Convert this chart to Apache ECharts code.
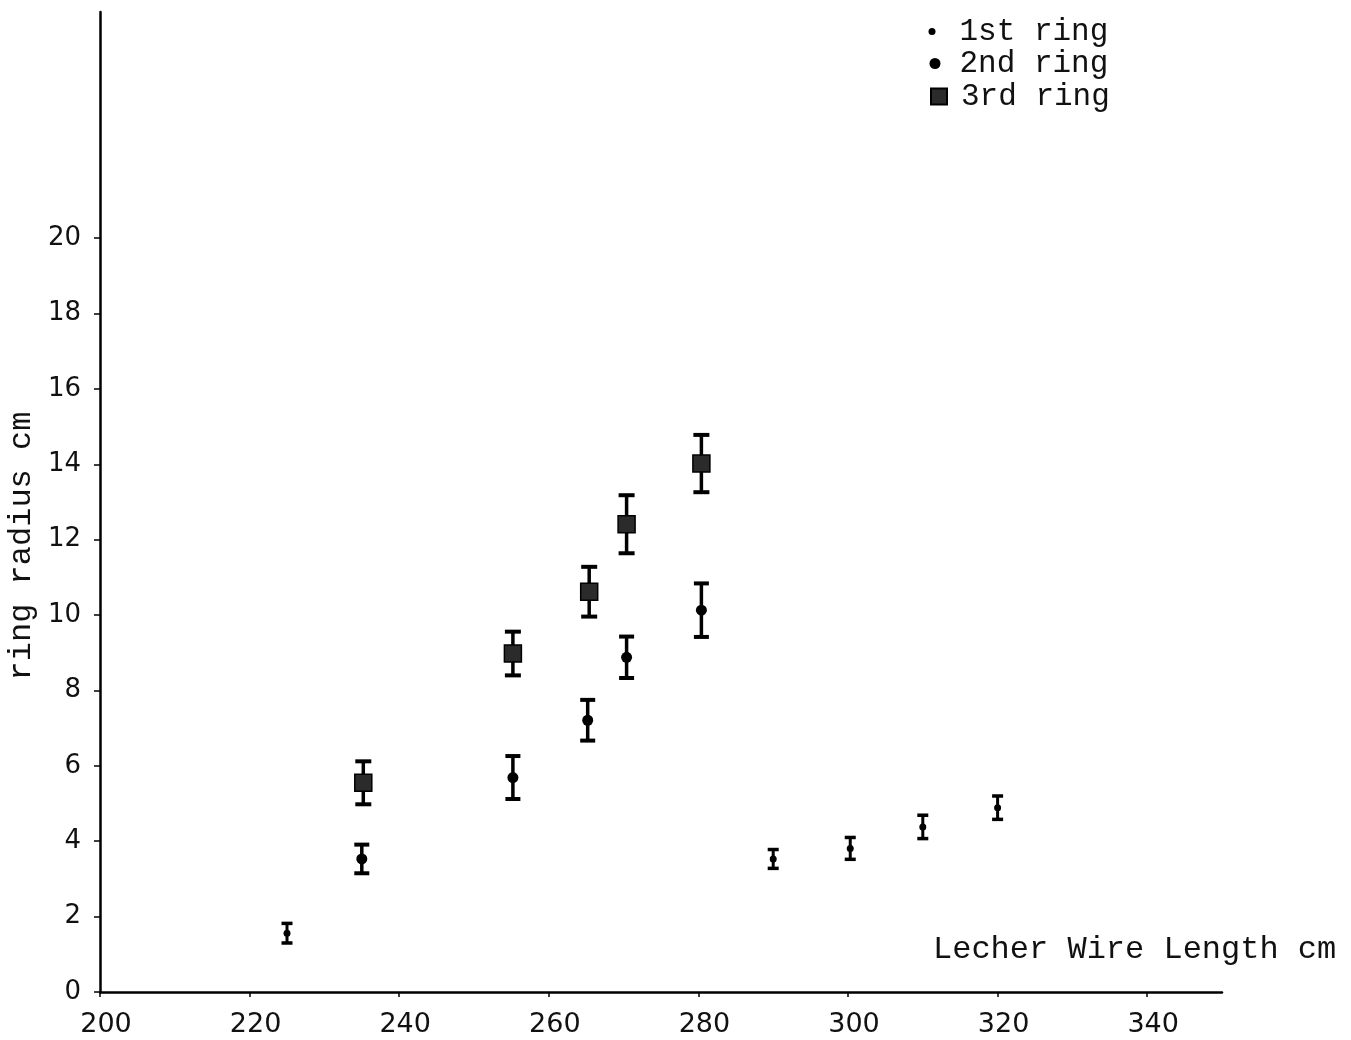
<!DOCTYPE html>
<html>
<head>
<meta charset="utf-8">
<script src="https://cdn.jsdelivr.net/npm/echarts@6/dist/echarts.min.js"></script>
<style>
html,body{margin:0;padding:0;background:#fff;}
#chart{width:1351px;height:1040px;}
</style>
</head>
<body>
<div id="chart"></div>
<script>
// ---- data ----
const xTicks = [200, 220, 240, 260, 280, 300, 320, 340];
const yTicks = [0, 2, 4, 6, 8, 10, 12, 14, 16, 18, 20];

const ring1X = [225, 290, 300.3, 310, 320];
const ring1Y = [1.56, 3.53, 3.81, 4.38, 4.89];
const ring1Err = [0.26, 0.25, 0.29, 0.31, 0.31];

const ring2X = [235, 255.2, 265.2, 270.4, 280.4];
const ring2Y = [3.53, 5.69, 7.21, 8.88, 10.13];
const ring2Err = [0.38, 0.57, 0.54, 0.55, 0.71];

const ring3X = [235.2, 255.2, 265.4, 270.4, 280.4];
const ring3Y = [5.55, 8.98, 10.62, 12.41, 14.02];
const ring3Err = [0.57, 0.58, 0.66, 0.77, 0.76];

const seriesNames = ['1st ring', '2nd ring', '3rd ring'];
const xName = 'Lecher Wire Length cm';
const yName = 'ring radius cm';

// ---- build ----
function pts(xs, ys) { return xs.map((x, i) => [x, ys[i]]); }
function errPts(xs, ys, es) { return xs.map((x, i) => [x, ys[i], es[i]]); }

function errSeries(name, data, capHalf, lw) {
  return {
    type: 'custom',
    name: name,
    xAxisIndex: 0, yAxisIndex: 0,
    z: 2,
    silent: true,
    data: data,
    renderItem: function (params, api) {
      const x = api.value(0), y = api.value(1), e = api.value(2);
      const top = api.coord([x, y + e]);
      const bot = api.coord([x, y - e]);
      const st = { stroke: '#000', lineWidth: lw };
      const capSt = { stroke: '#000', lineWidth: lw + 0.5 };
      return {
        type: 'group',
        children: [
          { type: 'line', shape: { x1: top[0], y1: top[1], x2: bot[0], y2: bot[1] }, style: st },
          { type: 'line', shape: { x1: top[0] - capHalf, y1: top[1], x2: top[0] + capHalf, y2: top[1] }, style: capSt },
          { type: 'line', shape: { x1: bot[0] - capHalf, y1: bot[1], x2: bot[0] + capHalf, y2: bot[1] }, style: capSt }
        ]
      };
    }
  };
}

const monoFont = '"Liberation Mono", "DejaVu Sans Mono", monospace';
const numFont = 'DejaVu Sans';

const gridLeft = 100, gridTop = 12, gridRight = 129, gridBottom = 48;

function legendItem(name, top, left, iw, ih, icon, padLeft) {
  return {
    data: [{ name: name, icon: icon }],
    orient: 'vertical',
    top: top, left: left,
    padding: 0,
    itemWidth: iw, itemHeight: ih,
    selectedMode: false,
    textStyle: { fontFamily: monoFont, fontSize: 31, color: '#111', padding: [0, 0, 0, padLeft] }
  };
}

const option = {
  backgroundColor: '#fff',
  animation: false,
  grid: { left: gridLeft, top: gridTop, right: gridRight, bottom: gridBottom, containLabel: false },
  legend: [
    legendItem(seriesNames[0], 16, 928.5, 7, 7, 'circle', 19),
    legendItem(seriesNames[1], 48, 929.5, 11, 11, 'circle', 14),
    legendItem(seriesNames[2], 81, 930, 16, 16, 'rect', 9)
  ],
  xAxis: {
    type: 'value', min: 200, max: 350, interval: 20,
    axisLine: { show: true, onZero: false, lineStyle: { color: '#000', width: 2.5 } },
    axisTick: { show: true, length: 5, customValues: xTicks, lineStyle: { color: '#000', width: 1.5 } },
    axisLabel: { customValues: xTicks, margin: 19, padding: [0, 0, 0, 12], fontFamily: numFont, fontSize: 27, color: '#111' },
    splitLine: { show: false }
  },
  yAxis: {
    type: 'value', min: 0, max: 26, interval: 2,
    axisLine: { show: true, onZero: false, lineStyle: { color: '#000', width: 2.5 } },
    axisTick: { show: true, length: 6, customValues: yTicks, lineStyle: { color: '#000', width: 1.5 } },
    axisLabel: { customValues: yTicks, margin: 19, fontFamily: numFont, fontSize: 26, color: '#111' },
    splitLine: { show: false }
  },
  graphic: [
    {
      type: 'text', left: 933, top: 934,
      style: { text: xName, font: '32px ' + monoFont, fill: '#111' }
    },
    {
      type: 'text', x: 22, y: 546, rotation: Math.PI / 2,
      style: { text: yName, font: '32px ' + monoFont, fill: '#111', align: 'center', verticalAlign: 'middle' }
    }
  ],
  series: [
    errSeries('e1', errPts(ring1X, ring1Y, ring1Err), 5.5, 3),
    errSeries('e2', errPts(ring2X, ring2Y, ring2Err), 7.5, 3.5),
    errSeries('e3', errPts(ring3X, ring3Y, ring3Err), 8, 3.5),
    {
      type: 'scatter', name: seriesNames[0], z: 3,
      symbol: 'circle', symbolSize: 7,
      itemStyle: { color: '#000', opacity: 1 },
      data: pts(ring1X, ring1Y)
    },
    {
      type: 'scatter', name: seriesNames[1], z: 3,
      symbol: 'circle', symbolSize: 11,
      itemStyle: { color: '#000', opacity: 1 },
      data: pts(ring2X, ring2Y)
    },
    {
      type: 'scatter', name: seriesNames[2], z: 3,
      symbol: 'rect', symbolSize: 17,
      itemStyle: { color: '#2b2b2b', borderColor: '#000', borderWidth: 1.5, opacity: 1 },
      data: pts(ring3X, ring3Y)
    }
  ]
};

const chart = echarts.init(document.getElementById('chart'), null, { renderer: 'canvas' });
chart.setOption(option);
</script>
</body>
</html>
